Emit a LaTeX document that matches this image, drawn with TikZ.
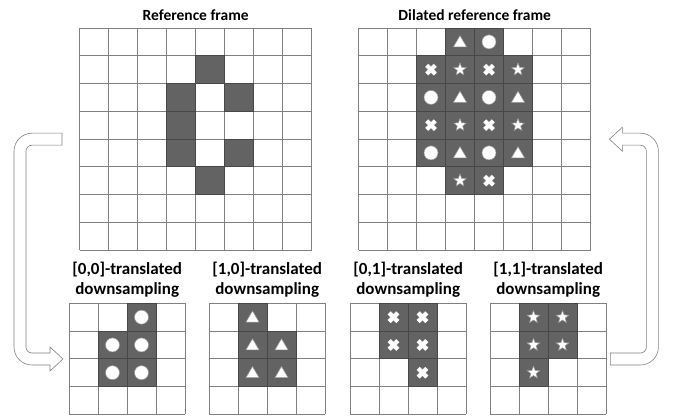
\documentclass[tikz,border=0pt]{standalone}
\usepackage{fontspec}
\setmainfont{Carlito}
\usetikzlibrary{positioning,calc}

\tikzset{
	gridbox/.style={anchor=north west, inner sep=0pt, minimum width=#1*29pt, minimum height=#1*27.75pt},
	gridline/.style={draw=black!50, line width=0.7pt},
	darkcell/.style={fill=black!61, draw=black!72, line width=0.7pt},
	title/.style={font=\bfseries\fontsize{15.5}{18}\selectfont, align=center},
	subtitle/.style={font=\bfseries\fontsize{17}{20}\selectfont, align=center},
	hollow/.style={draw=black!50, fill=white, line width=0.6pt},
	symbol/.style={draw=black!40, fill=white, line width=0.5pt},
	pics/mcirc/.style={code={\draw[symbol] (0,0) circle[radius=7pt];}},
	pics/mtri/.style={code={\draw[symbol] (0,-6.2) -- (6.6,5) -- (-6.6,5) -- cycle;}},
	pics/mstar/.style={code={\draw[symbol] (-90:6.6) -- (-54:2.8) -- (-18:6.6) -- (18:2.8) -- (54:6.6) -- (90:2.8) -- (126:6.6) -- (162:2.8) -- (198:6.6) -- (234:2.8) -- cycle;}},
	pics/mcross/.style={code={
		\draw[black!40, line width=5pt] (-4.3,-4.3) -- (4.3,4.3) (-4.3,4.3) -- (4.3,-4.3);
		\draw[white, line width=4pt] (-4.3,-4.3) -- (4.3,4.3) (-4.3,4.3) -- (4.3,-4.3);}}
}

\begin{document}
\begin{tikzpicture}[x=1pt, y=-1pt]
	\useasboundingbox (0,0) rectangle (675,419);

	% the six grids
	\node [gridbox=8] (ref) at (79.5,28) {};
	\node [gridbox=8] (dil) at (358.5,28) {};
	\node [gridbox=4] (d00) at (69,303.3) {};
	\node [gridbox=4] (d10) at (209,303.3) {};
	\node [gridbox=4] (d01) at (350,303.3) {};
	\node [gridbox=4] (d11) at (490,303.3) {};

	\node [title, above=4pt of ref] (tref) {Reference frame};
	\node [title, above=4pt of dil] (tdil) {Dilated reference frame};
	\node [subtitle, above=2pt of d00] (td00) {[0,0]-translated\\downsampling};
	\node [subtitle, above=2pt of d10] (td10) {[1,0]-translated\\downsampling};
	\node [subtitle, above=2pt of d01] (td01) {[0,1]-translated\\downsampling};
	\node [subtitle, above=2pt of d11] (td11) {[1,1]-translated\\downsampling};

	\foreach \g/\n in {ref/8, dil/8, d00/4, d10/4, d01/4, d11/4} {
		\begin{scope}[shift={(\g.north west)}]
			\foreach \k in {0,...,\n} {
				\draw [gridline] (\k*29,0) -- (\k*29,\n*27.75);
				\draw [gridline] (0,\k*27.75) -- (\n*29,\k*27.75);
			}
		\end{scope}
	}

	\begin{scope}[shift={(ref.north west)}]
		\foreach \c/\r in {4/1, 3/2, 5/2, 3/3, 3/4, 5/4, 4/5}
			\filldraw [darkcell] (\c*29,\r*27.75) rectangle ++(29,27.75);
	\end{scope}

	\begin{scope}[shift={(dil.north west)}]
		\foreach \c/\r/\s in {3/0/mtri, 4/0/mcirc,
				2/1/mcross, 3/1/mstar, 4/1/mcross, 5/1/mstar,
				2/2/mcirc, 3/2/mtri, 4/2/mcirc, 5/2/mtri,
				2/3/mcross, 3/3/mstar, 4/3/mcross, 5/3/mstar,
				2/4/mcirc, 3/4/mtri, 4/4/mcirc, 5/4/mtri,
				3/5/mstar, 4/5/mcross} {
			\filldraw [darkcell] (\c*29,\r*27.75) rectangle ++(29,27.75);
			\pic at (\c*29+14.5,\r*27.75+13.9) {\s};
		}
	\end{scope}

	\foreach \g/\s/\cells in {d00/mcirc/{2/0,1/1,2/1,1/2,2/2},
			d10/mtri/{1/0,1/1,2/1,1/2,2/2},
			d01/mcross/{1/0,2/0,1/1,2/1,2/2},
			d11/mstar/{1/0,2/0,1/1,2/1,1/2}} {
		\begin{scope}[shift={(\g.north west)}]
			\foreach \c/\r in \cells {
				\filldraw [darkcell] (\c*29,\r*27.75) rectangle ++(29,27.75);
				\pic at (\c*29+14.5,\r*27.75+13.9) {\s};
			}
		\end{scope}
	}

	% hollow bent arrows
	\coordinate (la) at ($(ref.west)+(-17.5,0)$);
	\coordinate (lb) at ($(d00.west)+(-6,0)$);
	\draw [hollow] ($(la)+(0,-6)$) -- ($(la)+(-30,-6)$) arc[start angle=270, end angle=180, radius=18]
		-- ($(lb)+(-49,-12)$) arc[start angle=180, end angle=90, radius=18]
		-- ($(lb)+(-13,6)$) -- ($(lb)+(-13,12)$) -- (lb) -- ($(lb)+(-13,-12)$) -- ($(lb)+(-13,-6)$)
		-- ($(lb)+(-31,-6)$) arc[start angle=90, end angle=180, radius=6]
		-- ($(la)+(-36,12)$) arc[start angle=180, end angle=270, radius=6]
		-- ($(la)+(0,6)$) -- cycle;

	\coordinate (ra) at ($(d11.east)+(4,0)$);
	\coordinate (rb) at ($(dil.east)+(18.5,0)$);
	\draw [hollow] ($(ra)+(0,6)$) -- ($(ra)+(30,6)$) arc[start angle=90, end angle=0, radius=18]
		-- ($(rb)+(49,12)$) arc[start angle=0, end angle=-90, radius=18]
		-- ($(rb)+(13,-6)$) -- ($(rb)+(13,-12)$) -- (rb) -- ($(rb)+(13,12)$) -- ($(rb)+(13,6)$)
		-- ($(rb)+(31,6)$) arc[start angle=270, end angle=360, radius=6]
		-- ($(ra)+(36,-12)$) arc[start angle=0, end angle=90, radius=6]
		-- ($(ra)+(0,-6)$) -- cycle;
\end{tikzpicture}
\end{document}
